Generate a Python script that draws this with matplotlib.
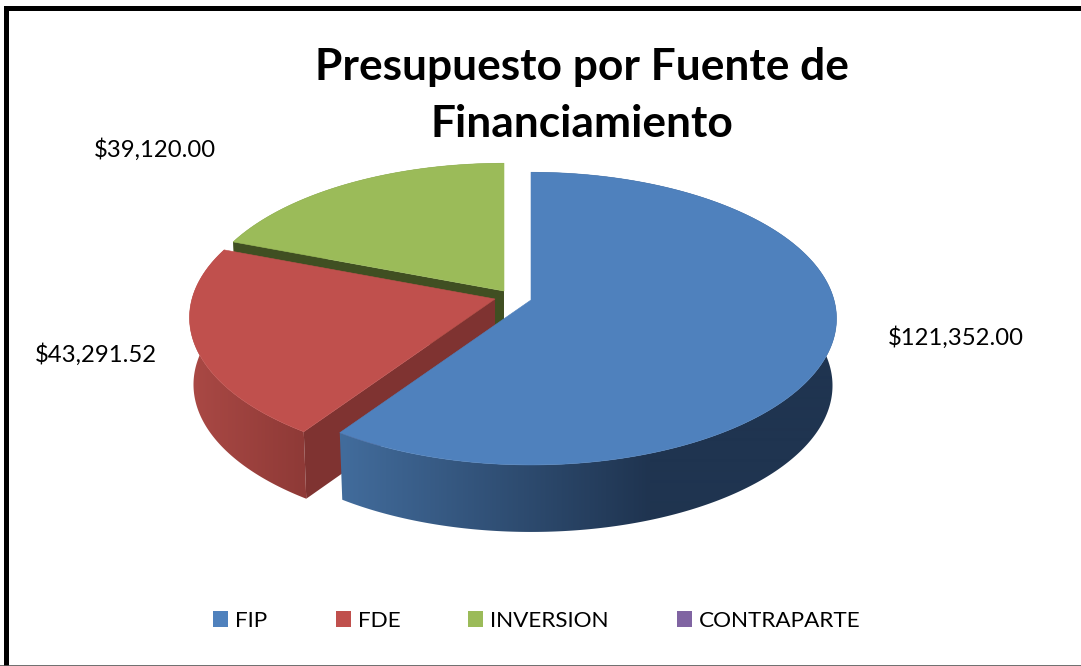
import numpy as np
import matplotlib
matplotlib.use("Agg")
import matplotlib.pyplot as plt
from matplotlib.colors import to_rgb
from matplotlib.patches import Polygon, Patch

plt.rcParams['font.family'] = ['Lato', 'DejaVu Sans']

title = "Presupuesto por Fuente de\nFinanciamiento"
sources = ["FIP", "FDE", "INVERSION", "CONTRAPARTE"]
amounts = [121352.00, 43291.52, 39120.00, 0.0]
value_labels = ["$121,352.00", "$43,291.52", "$39,120.00", None]

colors = ["#4F81BD", "#C0504D", "#9BBB59", "#8064A2"]
cut_colors = ["#2A4A70", "#7F3331", "#404F22", "#4C3C61"]
wall_colors = [
    ([341, 650, 840], ["#426C9C", "#1F3450", "#1F3450"]),
    ([190, 302], ["#AA4945", "#8F3A37"]),
    ([236, 504], ["#5F7335", "#5F7335"]),
    ([0, 1], ["#4C3C61", "#4C3C61"]),
]
# screen position of each slice's point (pie is pulled apart)
apex = [(531, 300), (495, 299), (504, 291), (530, 300)]
label_pos = [(956, 338), (96, 355), (155, 150), None]

R = 303
RY = 144
PERSP = 0.127
DEPTH = 67
BOTTOM_SHRINK = 0.987


def project(angle, ax0, ay0):
    u = np.cos(np.radians(angle))
    v = np.sin(np.radians(angle))
    s = 1 / (1 + PERSP * v)
    return ax0 + R * u * s, ay0 - RY * v * s


def project_low(angle, ax0, ay0):
    x, y = project(angle, ax0, ay0)
    return ax0 + (x - ax0) * BOTTOM_SHRINK, y + DEPTH


def draw_slice(ax, start, sweep, i, z):
    ax0, ay0 = apex[i]
    angles = np.linspace(start, start - sweep, int(sweep * 2) + 2)

    # outer wall: gradient image clipped to the wall outline
    upper = [project(a, ax0, ay0) for a in angles]
    lower = [project_low(a, ax0, ay0) for a in angles[::-1]]
    outline = Polygon(upper + lower, closed=True, transform=ax.transData)
    stops, cols = wall_colors[i]
    rgb = np.array([to_rgb(c) for c in cols])
    xs = np.arange(0, 1081)
    grad = np.stack([np.interp(xs, stops, rgb[:, k]) for k in range(3)], axis=1)
    im = ax.imshow(grad[None, :, :], extent=(0, 1081, 666, 0), aspect="auto",
                   interpolation="bilinear", zorder=z)
    im.set_clip_path(outline)

    # cut face along the start edge
    cut = [(ax0, ay0), project(start, ax0, ay0),
           project_low(start, ax0, ay0), (ax0, ay0 + DEPTH)]
    ax.add_patch(Polygon(cut, closed=True, facecolor=cut_colors[i], lw=0, zorder=z + 1))

    # top face
    top = [(ax0, ay0)] + upper
    ax.add_patch(Polygon(top, closed=True, facecolor=colors[i], edgecolor=colors[i],
                         lw=0.4, zorder=z + 2))


fig = plt.figure(figsize=(10.81, 6.66), dpi=100)
ax = fig.add_axes([0, 0, 1, 1])
ax.axis("off")

total = sum(amounts)
sweeps = [a / total * 360 for a in amounts]
starts = 90 - np.cumsum([0] + sweeps[:-1])

z = 1
for i in [2, 1, 0]:
    draw_slice(ax, starts[i], sweeps[i], i, z)
    z += 3

ax.set_xlim(0, 1081)
ax.set_ylim(666, 0)

for txt, pos in zip(value_labels, label_pos):
    if txt is not None:
        ax.text(pos[0], pos[1], txt, fontsize=17.2, ha="center", va="center",
                color="black", zorder=20)

ax.text(581.5, 95.5, title, fontsize=31.9, fontweight="bold", ha="center", va="center",
        linespacing=1.5, color="black", zorder=20)

handles = [Patch(facecolor=c, edgecolor="none", label=s) for c, s in zip(colors, sources)]
leg = ax.legend(handles=handles, ncols=4, loc="center", bbox_to_anchor=(537 / 1081, 1 - 621 / 666),
                frameon=False, fontsize=16.2, handlelength=0.667, handleheight=0.667,
                handletextpad=0.31, columnspacing=3.02, labelcolor="black")
leg.set_zorder(20)

# frame of the pasted picture
ax.plot([5.5, 5.5, 1081], [666, 7.5, 7.5], color="black", lw=3.6, solid_joinstyle="miter", zorder=30)
ax.plot([0, 1081], [665.5, 665.5], color="#555555", lw=1.2, zorder=30)

fig.savefig("out.png", dpi=100)
